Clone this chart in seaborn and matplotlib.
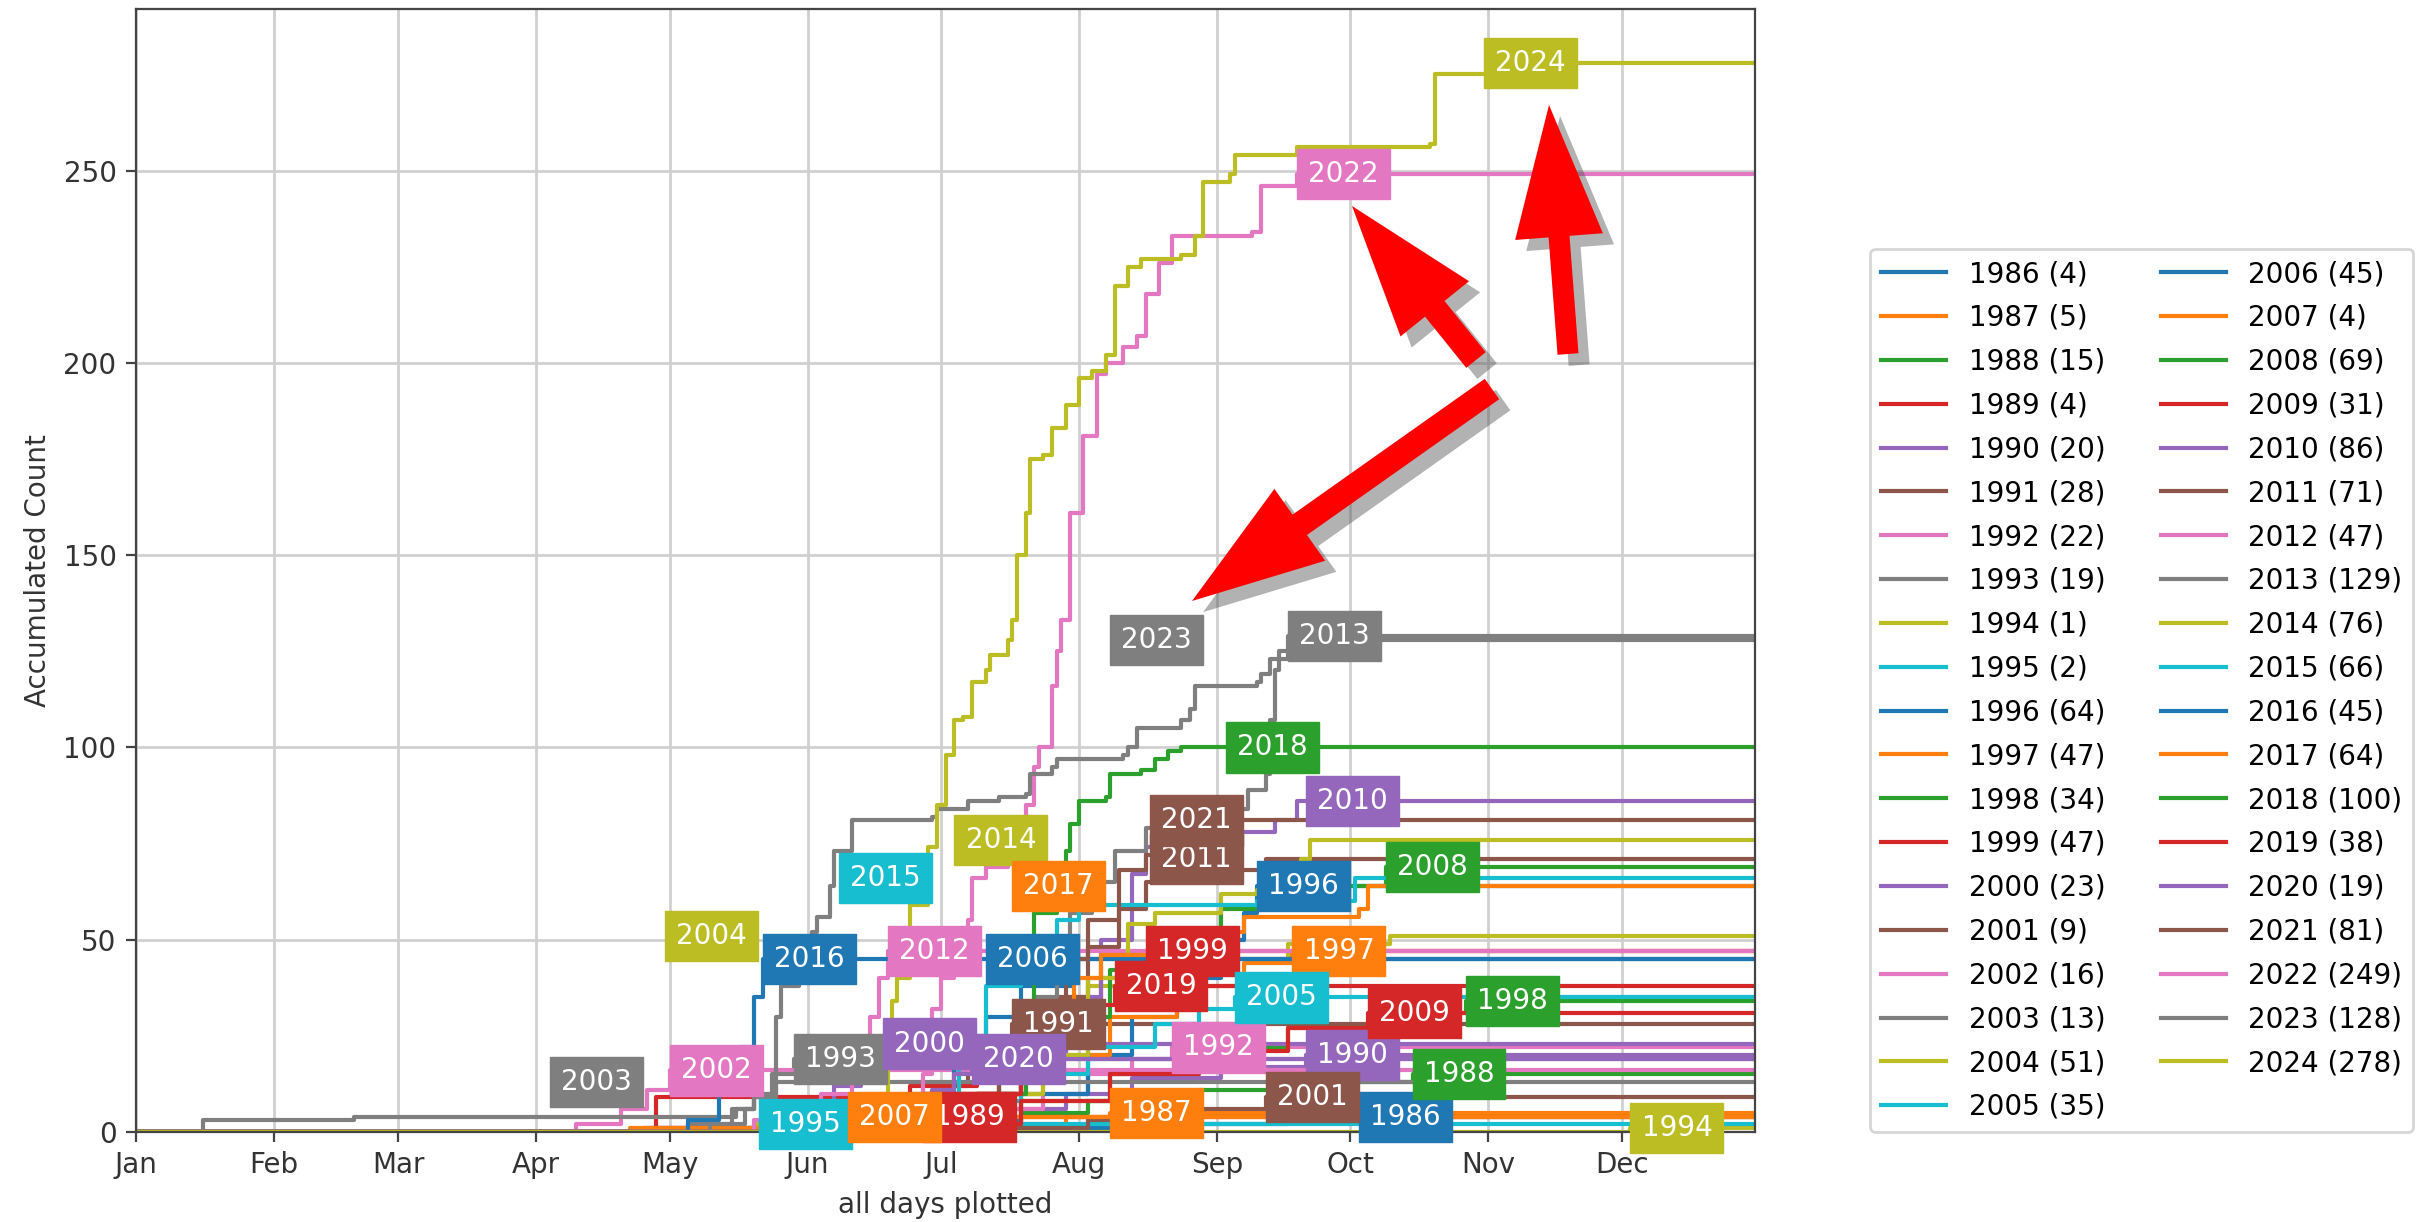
import matplotlib
matplotlib.use('Agg')
import pandas as pd
import matplotlib.pyplot as plt
import matplotlib.dates as mdates
import matplotlib.patches as mpatches
import matplotlib.patheffects as pe
from matplotlib.transforms import IdentityTransform
from matplotlib.lines import Line2D
import seaborn as sns

# %%
years = list(range(1986, 2025))
totals = [4, 5, 15, 4, 20, 28, 22, 19, 1, 2, 64, 47, 34, 47, 23, 9, 16, 13, 51, 35,
          45, 4, 69, 31, 86, 71, 47, 129, 76, 66, 45, 64, 100, 38, 19, 81, 249, 128, 278]
# day of year where each year's label sits
label_day = [276, 220, 288, 178, 264, 198, 234, 149, 337, 141, 253, 261, 300, 228, 169, 255, 121, 94, 120, 248,
             192, 161, 282, 278, 264, 229, 170, 260, 185, 159, 142, 198, 246, 221, 189, 229, 262, 220, 304]

# (day of year, accumulated count)
c1986 = [(1, 0), (200, 1), (230, 2), (260, 3), (276, 4)]
c1987 = [(1, 0), (190, 1), (200, 2), (210, 4), (220, 5)]
c1988 = [(1, 0), (180, 2), (200, 5), (215, 8), (240, 11), (265, 13), (288, 15)]
c1989 = [(1, 0), (115, 1), (165, 2), (172, 3), (178, 4)]
c1990 = [(1, 0), (118, 1), (175, 2), (195, 6), (210, 10), (225, 14), (245, 17), (264, 20)]
c1991 = [(1, 0), (165, 2), (175, 6), (182, 12), (188, 18), (193, 24), (198, 28)]
c1992 = [(1, 0), (180, 2), (195, 6), (205, 10), (215, 15), (225, 19), (234, 22)]
c1993 = [(1, 0), (125, 2), (135, 6), (140, 10), (145, 15), (149, 19)]
c1994 = [(1, 0), (337, 1)]
c1995 = [(1, 0), (130, 1), (141, 2)]
c1996 = [(1, 0), (180, 3), (200, 10), (215, 20), (225, 30), (235, 40), (245, 50), (250, 57), (253, 64)]
c1997 = [(1, 0), (170, 3), (190, 10), (205, 20), (220, 30), (235, 38), (250, 44), (261, 47)]
c1998 = [(1, 0), (180, 2), (200, 8), (220, 15), (240, 22), (260, 27), (280, 31), (300, 34)]
c1999 = [(1, 0), (118, 9), (175, 12), (190, 16), (200, 22), (210, 30), (218, 40), (228, 47)]
c2000 = [(1, 0), (116, 1), (150, 6), (158, 12), (164, 18), (169, 23)]
c2001 = [(1, 0), (190, 1), (215, 3), (235, 6), (255, 9)]
c2002 = [(1, 0), (100, 2), (110, 6), (116, 11), (121, 16)]
c2003 = [(1, 0), (16, 3), (50, 4), (136, 6), (140, 9), (145, 13)]
c2004 = [(1, 0), (140, 2), (165, 8), (185, 18), (200, 28), (215, 38), (230, 45), (260, 49), (283, 51)]
c2005 = [(1, 0), (170, 3), (185, 8), (200, 15), (215, 22), (230, 28), (240, 32), (248, 35)]
c2006 = [(1, 0), (160, 3), (175, 10), (185, 20), (192, 30), (200, 38), (212, 45)]
c2007 = [(1, 0), (112, 1), (145, 2), (155, 3), (161, 4)]
c2008 = [(1, 0), (175, 3), (190, 10), (200, 20), (210, 30), (220, 42), (230, 50), (245, 58), (260, 64), (282, 69)]
c2009 = [(1, 0), (180, 2), (200, 8), (220, 15), (240, 21), (260, 27), (278, 31)]
c2010 = [(1, 0), (175, 3), (190, 10), (200, 20), (210, 35), (218, 50), (225, 67), (228, 74), (245, 78),
         (257, 81), (262, 86)]
c2011 = [(1, 0), (175, 3), (190, 10), (200, 22), (208, 35), (215, 48), (222, 58), (228, 65), (240, 68), (255, 71)]
c2012 = [(1, 0), (140, 3), (155, 10), (162, 20), (166, 30), (168, 40), (170, 47)]
c2013 = [(1, 0), (170, 3), (185, 10), (195, 20), (203, 35), (208, 45), (211, 57), (216, 65), (221, 73),
         (228, 79), (240, 84), (251, 89), (255, 93), (256, 107), (257, 120), (258, 125), (260, 129)]
c2014 = [(1, 0), (180, 3), (195, 10), (205, 20), (215, 40), (224, 54), (230, 57), (245, 62), (253, 63),
         (263, 71), (265, 76)]
c2015 = [(1, 0), (165, 3), (178, 10), (186, 25), (192, 38), (200, 48), (208, 55), (213, 59), (253, 60), (275, 66)]
c2016 = [(1, 0), (125, 3), (132, 10), (137, 22), (140, 35), (142, 45)]
c2017 = [(1, 0), (170, 3), (185, 10), (195, 20), (205, 32), (212, 40), (218, 46), (230, 52), (250, 56),
         (276, 58), (278, 64)]
c2018 = [(1, 0), (185, 3), (195, 10), (201, 20), (203, 57), (208, 68), (210, 73), (211, 80), (213, 86),
         (219, 87), (220, 93), (227, 94), (230, 97), (233, 99), (236, 100)]
c2019 = [(1, 0), (175, 3), (190, 10), (200, 18), (208, 26), (215, 33), (221, 38)]
c2020 = [(1, 0), (160, 2), (172, 6), (180, 11), (185, 15), (189, 19)]
c2021 = [(1, 0), (170, 3), (185, 10), (195, 20), (203, 30), (210, 45), (215, 55), (222, 68), (228, 72),
         (235, 78), (248, 81)]
c2022 = [(1, 0), (175, 3), (178, 15), (180, 32), (182, 40), (185, 48), (188, 55), (189, 66), (192, 69),
         (197, 78), (201, 85), (203, 95), (204, 100), (207, 116), (208, 125), (209, 133), (211, 161),
         (214, 181), (217, 197), (219, 200), (223, 204), (226, 207), (228, 218), (231, 226), (234, 233),
         (252, 234), (254, 246), (262, 249)]
c2023 = [(1, 0), (130, 2), (138, 6), (140, 10), (144, 15), (145, 30), (146, 38), (150, 45), (153, 52),
         (154, 56), (157, 64), (158, 73), (162, 81), (180, 82), (181, 84), (188, 86), (195, 87), (201, 88),
         (202, 93), (207, 95), (208, 97), (223, 98), (224, 100), (226, 105), (236, 107), (238, 110),
         (239, 116), (253, 117), (254, 119), (256, 123), (260, 125), (261, 128)]
c2024 = [(1, 0), (163, 2), (168, 10), (170, 25), (171, 34), (172, 40), (175, 59), (179, 74), (181, 85),
         (183, 98), (185, 107), (187, 108), (189, 117), (192, 120), (193, 124), (197, 128), (198, 133),
         (199, 150), (201, 161), (202, 175), (205, 176), (207, 183), (210, 189), (213, 196), (216, 198),
         (219, 202), (221, 220), (224, 225), (227, 227), (236, 228), (239, 233), (241, 247), (247, 249),
         (248, 254), (262, 256), (292, 257), (293, 275), (310, 278)]

curves = [c1986, c1987, c1988, c1989, c1990, c1991, c1992, c1993, c1994, c1995,
          c1996, c1997, c1998, c1999, c2000, c2001, c2002, c2003, c2004, c2005,
          c2006, c2007, c2008, c2009, c2010, c2011, c2012, c2013, c2014, c2015,
          c2016, c2017, c2018, c2019, c2020, c2021, c2022, c2023, c2024]

# %%
base = pd.Timestamp('2001-01-01')
rows = []
for yr, pts, tot in zip(years, curves, totals):
    for d, c in pts + [(365, tot)]:
        rows.append((str(yr), base + pd.Timedelta(days=d - 1), c))
df = pd.DataFrame(rows, columns=['year', 'date', 'count'])

colors = [sns.color_palette('tab10')[i % 10] for i in range(len(years))]

# %%
fig = plt.figure(figsize=(12.12, 6.11), dpi=200)
ax = fig.add_axes([136 / 2424, 1 - 1132 / 1222, 1619 / 2424, 1123 / 1222])

sns.lineplot(data=df, x='date', y='count', hue='year', hue_order=[str(y) for y in years],
             palette=colors, drawstyle='steps-post', estimator=None, sort=False,
             legend=False, linewidth=1.5, ax=ax)

for i, yr in enumerate(years):
    ax.annotate(str(yr), (base + pd.Timedelta(days=label_day[i] - 1), totals[i]),
                xytext=(4, 0), textcoords='offset points', ha='left', va='center',
                fontsize=10, color='white',
                bbox=dict(boxstyle='square,pad=0.4', facecolor=colors[i], edgecolor=colors[i], lw=0.5),
                zorder=5)

ax.set_xlim(base, base + pd.Timedelta(days=364))
ax.set_ylim(0, 292)
ax.xaxis.set_major_locator(mdates.MonthLocator())
ax.xaxis.set_major_formatter(mdates.DateFormatter('%b'))
ax.set_yticks([0, 50, 100, 150, 200, 250])
ax.grid(True, color='#d0d0d0', lw=1.0)
ax.set_axisbelow(True)
ax.tick_params(labelsize=10, colors='#444444', labelcolor='#333333')
for s in ax.spines.values():
    s.set_color('#444444')
ax.set_xlabel('all days plotted', fontsize=10, color='#333333')
ax.set_ylabel('Accumulated Count', fontsize=10, color='#333333')

handles = [Line2D([], [], color=colors[i], lw=1.5) for i in range(len(years))]
labels = [f'{y} ({t})' for y, t in zip(years, totals)]
ax.legend(handles, labels, ncol=2, loc='lower left', bbox_to_anchor=(1.071, 0.0),
          borderaxespad=0, fontsize=10, handlelength=2.35, labelspacing=0.57)

# red arrows drawn over the chart (pixel coords, y from top)
H = 1222
arrows = [((1476, 360), (1352, 206), 25), ((1568, 354), (1549, 105), 21), ((1492, 389), (1192, 601), 25)]
for (tx, ty), (px, py), w in arrows:
    a = mpatches.FancyArrow(tx, H - ty, px - tx, -(py - ty), width=w, head_width=88, head_length=132,
                            length_includes_head=True, transform=IdentityTransform(),
                            facecolor='red', edgecolor='none', zorder=10,
                            path_effects=[pe.SimplePatchShadow(offset=(4, -4), shadow_rgbFace='#555555', alpha=0.45),
                                          pe.Normal()])
    fig.add_artist(a)

fig.savefig('out.png', dpi=200)
